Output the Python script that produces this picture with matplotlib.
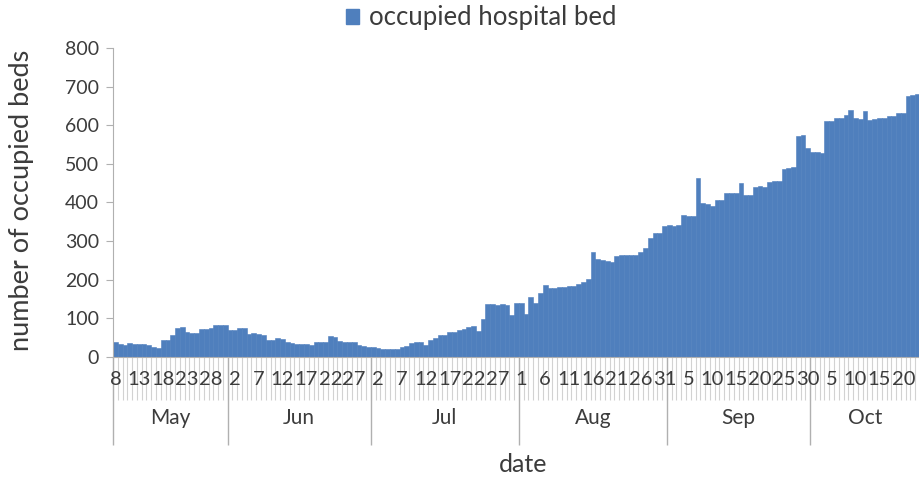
import numpy as np
import pandas as pd
import matplotlib
matplotlib.use("Agg")
import matplotlib.pyplot as plt
import matplotlib.transforms as mtransforms
from matplotlib.patches import Patch

# occupied beds per day (May 8 .. Oct 23)
may = [40, 33, 30, 35, 33, 33, 33, 32, 25, 24, 44, 45, 58, 76, 78, 66, 63, 63,
       72, 73, 76, 82, 84, 83]
jun = [70, 69, 74, 75, 60, 61, 60, 58, 45, 45, 48, 46, 40, 36, 34, 34, 33, 32,
       40, 40, 40, 55, 52, 42, 40, 38, 40, 32, 28, 27]
jul = [25, 24, 21, 21, 22, 22, 26, 28, 36, 38, 38, 31, 44, 50, 56, 57, 64, 65,
       70, 72, 78, 80, 67, 98, 138, 137, 135, 136, 134, 108, 140]
aug = [140, 112, 155, 140, 165, 186, 178, 178, 180, 181, 183, 183, 190, 194,
       203, 272, 255, 252, 248, 245, 262, 264, 264, 263, 265, 272, 282, 307,
       320, 322, 338]
sep = [341, 340, 342, 367, 366, 364, 463, 398, 396, 391, 406, 407, 424, 424,
       425, 450, 419, 420, 441, 442, 441, 454, 455, 456, 488, 489, 492, 571,
       575, 541]
octo = [532, 530, 528, 610, 612, 618, 619, 627, 640, 618, 617, 636, 614, 617,
        619, 620, 623, 624, 631, 633, 676, 678, 680]

beds = may + jun + jul + aug + sep + octo
dates = pd.date_range("2020-05-08", periods=len(beds), freq="D")
month_names = ["May", "Jun", "Jul", "Aug", "Sep", "Oct"]

plt.rcParams['font.family'] = ['Lato', 'DejaVu Sans']
text_col = '#3c3c3c'
axis_grey = '#b0b0b0'
bar_col = '#4f7fbd'

fig = plt.figure(figsize=(9.2, 4.82), dpi=100)
ax = fig.add_axes([113/920, 125/482, 807/920, 309/482])

x = np.arange(len(beds))
ax.bar(x, beds, width=1.0, color=bar_col, edgecolor=bar_col, linewidth=0.4)
ax.set_xlim(-0.5, len(beds) - 0.5)
ax.set_ylim(0, 800)
ax.set_yticks(range(0, 801, 100))
ax.tick_params(axis='y', length=5, color=axis_grey, labelsize=14,
               labelcolor=text_col, pad=5)
ax.set_xticks([])
for s in ['top', 'right']:
    ax.spines[s].set_visible(False)
ax.spines['left'].set_color(axis_grey)
ax.spines['bottom'].set_color(axis_grey)

trans = mtransforms.blended_transform_factory(ax.transData, ax.transAxes)

# one small separator per day in the label band
ax.vlines(np.arange(len(beds) + 1) - 0.5, -0.139, 0, transform=trans,
          colors='#d2d2d2', lw=0.8, clip_on=False)

# month separators
starts = [0] + [i for i, d in enumerate(dates) if d.day == 1]
ax.vlines(np.array(starts) - 0.5, -0.285, 0, transform=trans,
          colors=axis_grey, lw=1.0, clip_on=False)

# day labels every 5 days
for i in range(0, len(beds), 5):
    ax.text(i, -0.074, str(dates[i].day), transform=trans, ha='center',
            va='center', fontsize=14.5, color=text_col)

# month labels centered in their group
ends = starts[1:] + [len(beds)]
for name, a, b in zip(month_names, starts, ends):
    ax.text((a + b - 1) / 2, -0.197, name, transform=trans, ha='center',
            va='center', fontsize=15, color=text_col)

fig.text(523/920, 1 - 465/482, "date", ha='center', va='center',
         fontsize=18, color=text_col)
fig.text(22/920, 1 - 200/482, "number of occupied beds", ha='center',
         va='center', rotation=90, fontsize=19.5, color=text_col)

ax.legend(handles=[Patch(color=bar_col, label="occupied hospital bed")],
          loc='center', bbox_to_anchor=(481/920, 1 - 18/482),
          bbox_transform=fig.transFigure, frameon=False, handlelength=0.5,
          handleheight=0.5, handletextpad=0.4, fontsize=18.5,
          labelcolor=text_col)

fig.savefig("out.png", dpi=100)
